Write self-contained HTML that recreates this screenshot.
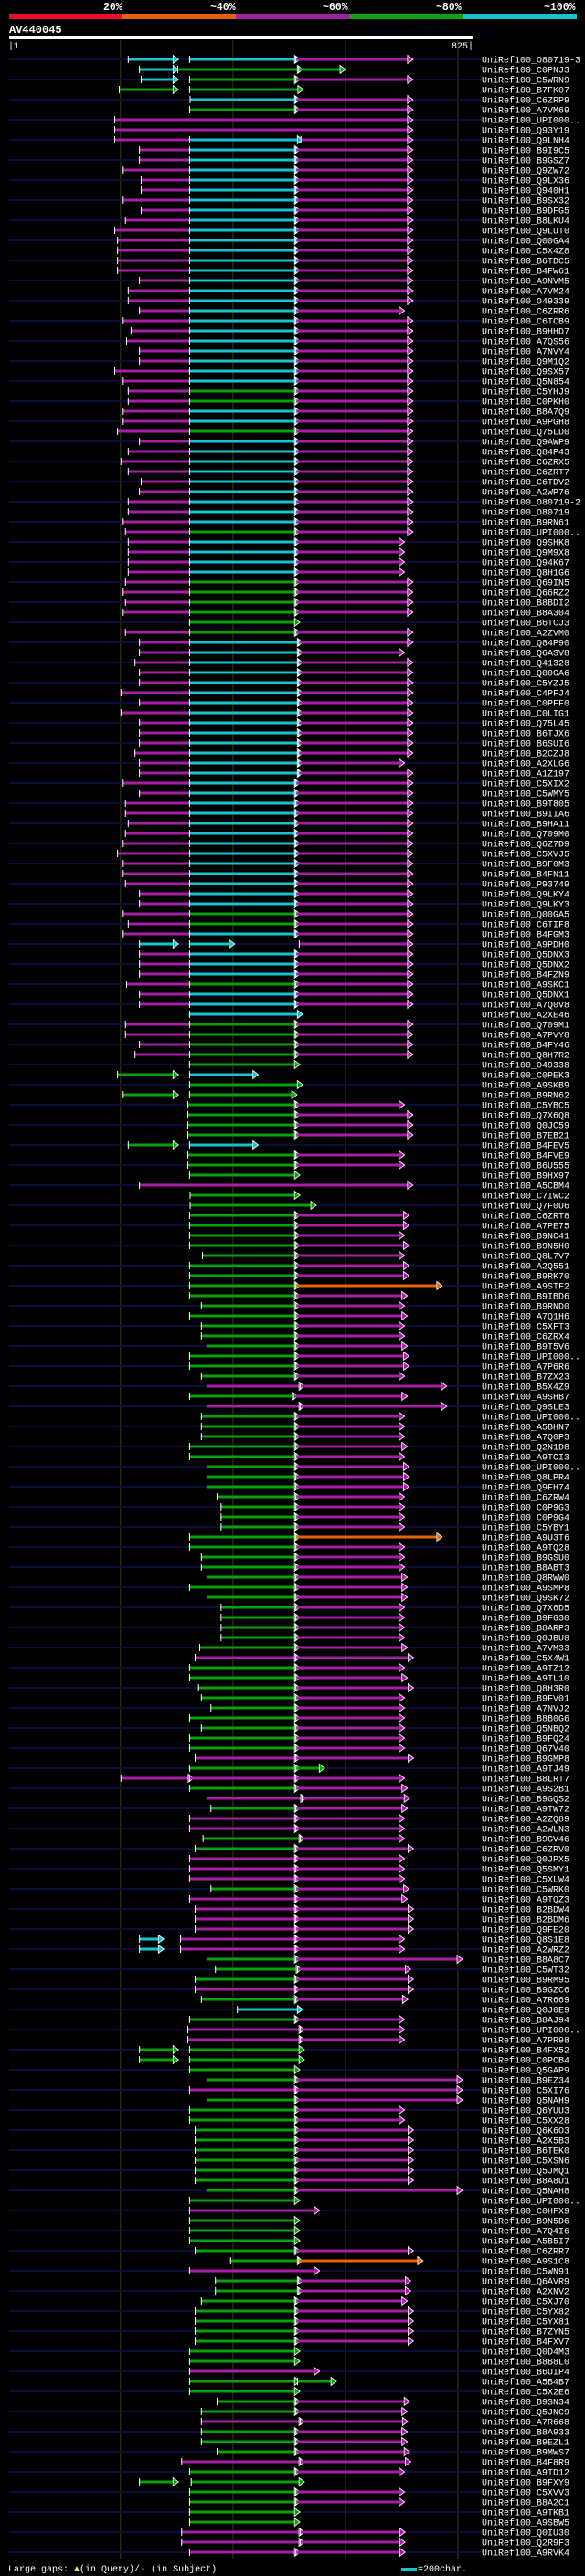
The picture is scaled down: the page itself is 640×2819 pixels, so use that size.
<!DOCTYPE html>
<html><head><meta charset="utf-8"><style>
html,body{margin:0;padding:0;background:#000;}
svg{display:block;}
text{font-family:"Liberation Mono",monospace;}
</style></head><body>
<svg id="chart" width="640" height="2819" viewBox="0 0 640 2819" xmlns="http://www.w3.org/2000/svg">
<rect x="0" y="0" width="640" height="2819" fill="#000"/>
<g>
<rect x="10" y="15" width="124" height="6" fill="#f00a2a"/>
<rect x="134" y="15" width="124" height="6" fill="#e0650a"/>
<rect x="258" y="15" width="124" height="6" fill="#a020a0"/>
<rect x="382" y="15" width="124" height="6" fill="#10a010"/>
<rect x="506" y="15" width="125" height="6" fill="#14c4cc"/>
<text x="113" y="11" fill="#fff" font-size="11.5" font-weight="bold">20%</text>
<text x="230" y="11" fill="#fff" font-size="11.5" font-weight="bold">~40%</text>
<text x="353" y="11" fill="#fff" font-size="11.5" font-weight="bold">~60%</text>
<text x="477" y="11" fill="#fff" font-size="11.5" font-weight="bold">~80%</text>
<text x="595" y="11" fill="#fff" font-size="11.5" font-weight="bold">~100%</text>
</g>
<text x="10" y="36" fill="#fff" font-size="12" font-weight="bold">AV440045</text>
<text x="402" y="37" fill="#000030" font-size="10">AlignView.pm Beta rel.7</text>
<rect x="10" y="39" width="508" height="4" fill="#fff"/>
<text x="9" y="53" fill="#fff" font-size="10">|1</text>
<text x="518" y="53" fill="#fff" font-size="10" text-anchor="end">825|</text>
<g id="guides"></g>
<g id="rows"></g>
<g>
<text x="9" y="2814" fill="#fff" font-size="10">Large gaps: <tspan fill="#ffe060">▲</tspan>(in Query)/<tspan fill="#14c4cc">-</tspan> (in Subject)</text>
<rect x="439" y="2810" width="17" height="3" fill="#14c4cc"/>
<text x="457" y="2814" fill="#fff" font-size="10">=200char.</text>
</g>
</svg>
<script>
const queryLength = [1, 825];
const guideTicks = [199, 399, 599, 799];
const labels = ["O80719-3","C0PNJ3","C5WRN9","B7FK07","C6ZRP9","A7VM69","UPI000..","Q93Y19","Q9LNH4","B9I9C5","B9GSZ7","Q9ZW72","Q9LX36","Q940H1","B9SX32","B9DFG5","B8LKU4","Q9LUT0","Q00GA4","C5X4Z8","B6TDC5","B4FW61","A9NVM5","A7VM24","O49339","C6ZRR6","C6TCB9","B9HHD7","A7QS56","A7NVY4","Q9M1Q2","Q9SX57","Q5N854","C5YHJ9","C0PKH0","B8A7Q9","A9PGH8","Q75LD0","Q9AWP9","Q84P43","C6ZRX5",
"C6ZRT7","C6TDV2","A2WP76","O80719-2","O80719","B9RN61","UPI000..","Q9SHK8","Q9M9X8","Q94K67","Q8H1G6","Q69IN5","Q66RZ2","B8BDI2","B8A304","B6TCJ3","A2ZVM0","Q84P90","Q6ASV8","Q41328","Q00GA6","C5YZJ5","C4PFJ4","C0PFF0","C0LIG1","Q75L45","B6TJX6","B6SUI6","B2CZJ8","A2XLG6","A1Z197","C5XIX2","C5WMY5","B9T805","B9IIA6","B9HA11","Q709M0","Q6Z7D9","C5XVJ5","B9F0M3","B4FN11",
"P93749","Q9LKY4","Q9LKY3","Q00GA5","C6TIF8","B4FGM3","A9PDH0","Q5DNX3","Q5DNX2","B4FZN9","A9SKC1","Q5DNX1","A7Q0V8","A2XE46","Q709M1","A7PVY8","B4FY46","Q8H7R2","O49338","C0PEK3","A9SKB9","B9RN62","C5YBC5","Q7X6Q8","Q0JC59","B7EB21","B4FEV5","B4FVE9","B6U555","B9HX97","A5CBM4","C7IWC2","Q7F0U6","C6ZRT8","A7PE75","B9NC41","B9N5H0","Q8L7V7","A2Q551","B9RK70","A9STF2",
"B9IBD6","B9RND0","A7Q1H6","C5XFT3","C6ZRX4","B9T5V6","UPI000..","A7P6R6","B7ZX23","B5X4Z9","A9SHB7","Q9SLE3","UPI000..","A5BHN7","A7Q0P3","Q2N1D8","A9TCI3","UPI000..","Q8LPR4","Q9FH74","C6ZRW4","C0P9G3","C0P9G4","C5YBY1","A9U3T6","A9TQ28","B9GSU0","B8ABT3","Q8RWW0","A9SMP8","Q9SK72","Q7X6D5","B9FG30","B8ARP3","Q0JBU8","A7VM33","C5X4W1","A9TZ12","A9TL10","Q8H3R0","B9FV01",
"A7NVJ2","B8B0G6","Q5NBQ2","B9FQ24","Q67V40","B9GMP8","A9TJ49","B8LRT7","A9S2B1","B9GQS2","A9TW72","A2ZQ89","A2WLN3","B9GV46","C6ZRV0","Q0JPX5","Q5SMY1","C5XLW4","C5WRK0","A9TQZ3","B2BDW4","B2BDM6","Q9FE20","Q8S1E8","A2WRZ2","B8A8C7","C5WT32","B9RM95","B9GZC6","A7R669","Q0J0E9","B8AJ94","UPI000..","A7PR98","B4FX52","C0PCB4","Q5GAP9","B9EZ34","C5XI76","Q5NAH9","Q6YUU3",
"C5XX28","Q6K6O3","A2X5B3","B6TEK0","C5XSN6","Q5JMQ1","B8A8U1","Q5NAH8","UPI000..","C0HFX9","B9N5D6","A7Q4I6","A5B5I7","C6ZRR7","A9S1C8","C5WN91","Q6AVR9","A2XNV2","C5XJ70","C5YX82","C5YX81","B7ZYN5","B4FXV7","Q0D4M3","B8B8L0","B6UIP4","A5B4B7","C5X2E6","B9SN34","Q5JNC9","A7R668","B8A933","B9EZL1","B9MWS7","B4F8R9","A9TD12","B9FXY9","C5XVV3","B8A2C1","A9TKB1","A9SBW5","Q0IU30","Q2R9F3","A9RVK4"];
const hits = [
"212-294C>,321-510C>,510-711M>","232-294C>,300-515G>,515-591G>","235-294C>,321-510G>,510-711M>","196-294G>,321-516G>","322-510C>,510-711M>","321-510G>,510-711M>","188-711M>","188-711M>","188-321M,321-515C>,519-711M>","232-321M,321-510C>,510-711M>",
"232-321M,321-510C>,510-711M>","203-321M,321-510C>,510-711M>","235-321M,321-510C>,510-711M>","235-321M,321-510C>,510-711M>","203-321M,321-510C>,510-711M>","235-321M,321-510C>,510-711M>","207-321M,321-510C>,510-711M>","188-321M,321-510C>,510-711M>","193-321M,321-510C>,510-711M>","193-321M,321-510C>,510-711M>",
"193-321M,321-510C>,510-711M>","193-321M,321-510C>,510-711M>","232-321M,321-510C>,510-711M>","212-321M,321-510C>,510-711M>","212-321M,321-510C>,510-711M>","232-321M,321-510C>,510-696M>","203-321M,321-510C>,510-711M>","217-321M,321-510C>,510-711M>","209-321M,321-510C>,510-711M>","232-321M,321-510C>,510-711M>",
"232-321M,321-510C>,510-711M>","188-321M,321-510C>,510-711M>","203-321M,321-510C>,510-711M>","212-321M,321-510G>,510-711M>","212-321M,321-510G>,510-711M>","203-321M,321-510C>,510-711M>","203-321M,321-510C>,510-711M>","193-321M,321-510G>,510-711M>","232-321M,321-510C>,510-711M>","212-321M,321-510C>,510-711M>",
"199-321M,321-510C>,510-711M>","212-321M,321-510C>,510-711M>","235-321M,321-510C>,510-711M>","232-321M,321-510C>,510-711M>","212-321M,321-510C>,510-711M>","212-321M,321-510C>,510-711M>","203-321M,321-510C>,510-711M>","207-321M,321-510G>,510-711M>","212-321M,321-510C>,510-696M>","212-321M,321-510C>,510-696M>",
"212-321M,321-510C>,510-696M>","212-321M,321-510C>,510-696M>","207-321M,321-510G>,510-711M>","203-321M,321-510G>,510-711M>","207-321M,321-510G>,510-711M>","203-321M,321-510G>,510-711M>","321-510G>","207-321M,321-510G>,510-711M>","232-321M,321-515C>,515-711M>","232-321M,321-515C>,515-696M>",
"224-321M,321-515C>,515-711M>","232-321M,321-515C>,515-711M>","232-321M,321-515C>,515-711M>","199-321M,321-515C>,515-711M>","232-321M,321-515C>,515-711M>","199-321M,321-515C>,515-711M>","232-321M,321-515C>,515-711M>","232-321M,321-515C>,515-711M>","232-321M,321-515C>,515-711M>","224-321M,321-515C>,515-711M>",
"232-321M,321-515C>,515-696M>","232-321M,321-515C>,515-711M>","203-321M,321-510C>,510-711M>","232-321M,321-510C>,510-711M>","207-321M,321-510C>,510-711M>","207-321M,321-510C>,510-711M>","212-321M,321-510C>,510-711M>","207-321M,321-510C>,510-711M>","203-321M,321-510C>,510-711M>","193-321M,321-510C>,510-711M>",
"203-321M,321-510C>,510-711M>","203-321M,321-510C>,510-711M>","207-321M,321-510C>,510-711M>","232-321M,321-510C>,510-711M>","232-321M,321-510C>,510-711M>","203-321M,321-510G>,510-711M>","212-321M,321-510G>,510-711M>","203-321M,321-510C>,510-711M>","232-294C>,321-394C>,516-711M>","232-321M,321-510C>,510-711M>",
"232-321M,321-510C>,510-711M>","232-321M,321-510C>,510-711M>","209-321M,321-510G>,510-711M>","232-321M,321-510C>,510-711M>","232-321M,321-510C>,510-711M>","321-515C>","207-321M,321-510G>,510-711M>","207-321M,321-510G>,510-711M>","232-321M,321-510G>,510-711M>","224-321M,321-510G>,510-711M>",
"321-510G>","193-294G>,321-436C>","321-515G>","203-294G>,321-505G>","318-510G>,510-696M>","318-510G>,510-711M>","318-510G>,510-711M>","318-510G>,510-711M>","212-294G>,321-436C>","318-510G>,510-696M>",
"318-510G>,510-696M>","321-510G>","232-711M>","322-510G>","322-539G>","321-510G>,510-704M>","321-510G>,510-704M>","321-510G>,510-696M>","321-510G>,510-704M>","344-510G>,510-696M>",
"321-510G>,510-704M>","321-510G>,510-704M>","321-510G>,510-763O>","321-510G>,510-701M>","342-510G>,510-696M>","321-510G>,510-701M>","342-510G>,510-696M>","342-510G>,510-696M>","352-510G>,510-701M>","321-510G>,510-704M>",
"321-510G>,510-704M>","342-510G>,510-696M>","352-518M>,518-771M>","321-506G>,506-701M>","352-518M>,518-771M>","342-510G>,510-696M>","342-510G>,510-696M>","342-510G>,510-696M>","321-510G>,510-701M>","321-510G>,510-696M>",
"352-510G>,510-704M>","352-510G>,510-704M>","352-510G>,510-704M>","370-510G>,510-696M>","377-510G>,510-696M>","377-510G>,510-696M>","377-510G>,510-696M>","321-510G>,510-763O>","321-510G>,510-696M>","342-510G>,510-696M>",
"342-510G>,510-696M>","352-510G>,510-701M>","321-510G>,510-701M>","352-510G>,510-701M>","377-510G>,510-696M>","377-510G>,510-696M>","377-510G>,510-696M>","377-510G>,510-696M>","339-510G>,510-701M>","331-510M>,510-712M>",
"321-510G>,510-696M>","321-510G>,510-701M>","337-510G>,510-712M>","342-510G>,510-696M>","359-510G>,510-696M>","321-510G>,510-696M>","342-510G>,510-696M>","321-510G>,510-696M>","321-510G>,510-696M>","331-510M>,510-712M>",
"321-510G>,510-554G>","199-321M>,321-510M>,510-696M>","321-510G>,510-701M>","352-521M>,521-705M>","359-510G>,510-701M>","321-510M>,510-696M>","321-510M>,510-696M>","345-518G>,518-696M>","331-510G>,510-712M>","321-510M>,510-696M>",
"321-510M>,510-696M>","321-510M>,510-696M>","359-510G>,510-704M>","321-510M>,510-701M>","331-510M>,510-712M>","331-510M>,510-712M>","331-510M>,510-712M>","232-268C>,305-510M>,510-696M>","232-268C>,305-510M>,510-696M>","352-510G>,510-799M>",
"367-513G>,513-707M>","331-510G>,510-712M>","331-510M>,510-712M>","342-510G>,510-702M>","406-515C>","321-510G>,510-696M>","318-518M>,518-696M>","318-518M>,518-696M>","232-294G>,321-518G>","232-294G>,321-518G>",
"321-510G>","352-510G>,510-799M>","321-510M>,510-799M>","352-510G>,510-799M>","321-510G>,510-696M>","321-510G>,510-696M>","331-510G>,510-712M>","331-510G>,510-712M>","331-510G>,510-712M>","331-510G>,510-712M>",
"331-510G>,510-712M>","331-510G>,510-712M>","352-510G>,510-799M>","321-510G>","321-545M>","321-510G>","321-510G>","321-510G>","331-510G>,510-712M>","394-515G>,515-729O>",
"321-545M>","367-515G>,515-707M>","367-515G>,515-707M>","342-510G>,510-701M>","331-510G>,510-712M>","331-510G>,510-712M>","331-510G>,510-712M>","331-510G>,510-712M>","321-510G>","321-510G>",
"321-545M>","321-510G>,513-575G>","321-510G>","370-510G>,510-705M>","342-510G>,510-701M>","342-518M>,518-702M>","342-510G>,510-701M>","342-510G>,510-701M>","370-510G>,510-705M>","307-518M>,518-707M>",
"321-510G>,510-696M>","232-294G>,324-518G>","321-510G>,510-696M>","321-510G>,510-696M>","321-510G>","321-510G>","307-518M>,518-697M>","307-518M>,518-697M>","321-510M>,510-697M>"
];
const NS="http://www.w3.org/2000/svg";
const colors={C:"#17c3cc",G:"#0aa00a",M:"#a61fa6",O:"#e6650a"};
const xScale=p=>10+(p-queryLength[0])*507/(queryLength[1]-queryLength[0]);
const rowY=i=>65+i*11;
function mk(tag,attrs,parent){const e=document.createElementNS(NS,tag);for(const k in attrs)e.setAttribute(k,attrs[k]);parent.appendChild(e);return e;}
const guides=document.getElementById('guides');
guideTicks.forEach(t=>{
  const l=mk('line',{x1:xScale(t),x2:xScale(t),y1:44,y2:2800,stroke:'#3a3a12','stroke-width':1},guides);
  
  
});
const rowsG=document.getElementById('rows');
labels.forEach((lab,i)=>{
  const y=rowY(i);
  const g=mk('g',{},rowsG);
  
  
  if(i%2===0){
    const s=mk('rect',{x:10,y:y-1,width:517,height:2,fill:'#0c0c38'},g);
    
    
  }
  const spec=hits[i]||"";
  spec.split(',').filter(Boolean).forEach(tok=>{
    const m=tok.match(/^(\d+)-(\d+)([CGMO])(>?)$/);
    if(!m)return;
    const a=xScale(+m[1]),b=xScale(+m[2]),c=colors[m[3]];
    const r=mk('rect',{x:a,y:y-1.5,width:Math.max(0,b-a),height:3,fill:c},g);
    
    
    const t=mk('line',{x1:a+0.5,x2:a+0.5,y1:y-4,y2:y+4,stroke:'#fff','stroke-width':1},g);
    
    
    if(m[4]){
      const p=mk('polygon',{points:`${b-1},${y-4.5} ${b+5},${y} ${b-1},${y+4.5}`,fill:c,stroke:'#fff','stroke-width':0.8},g);
      
      
    }
  });
  const tx=mk('text',{x:527,y:y+3.5,fill:'#fff','font-size':10},g);
  tx.textContent='UniRef100_'+lab;
  
  
});
</script>
</body></html>
